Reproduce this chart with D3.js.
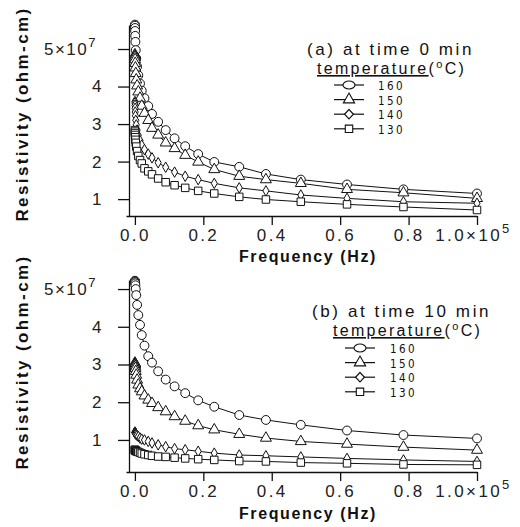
<!DOCTYPE html>
<html>
<head>
<meta charset="utf-8">
<script src="https://cdn.jsdelivr.net/npm/d3@7"></script>
<style>
  body { margin: 0; background: #fff; }
  svg { display: block; }
</style>
</head>
<body>
<div id="chart"></div>
<script>
// frequency (x 1e5 Hz), same sweep for every curve
var freq = [0.0001, 0.0002, 0.0004, 0.0006, 0.001, 0.0015, 0.0025, 0.004, 0.0065, 0.01,
            0.015, 0.02, 0.028, 0.039, 0.05, 0.068, 0.09, 0.116, 0.147, 0.185,
            0.232, 0.305, 0.383, 0.485, 0.62, 0.785, 1.0];

// (a) at time 0 min, resistivity x 1e7 ohm-cm
var a160 = [5.65, 5.62, 5.56, 5.48, 5.35, 5.19, 4.97, 4.75, 4.53, 4.3, 4.08, 3.89, 3.69, 3.48, 3.27, 3.06, 2.84, 2.62, 2.41, 2.2, 1.99, 1.86, 1.67, 1.52, 1.39, 1.26, 1.15];
var a150 = [4.85, 4.82, 4.78, 4.72, 4.62, 4.5, 4.35, 4.18, 4.02, 3.86, 3.69, 3.48, 3.29, 3.1, 2.89, 2.71, 2.5, 2.35, 2.17, 1.99, 1.79, 1.61, 1.52, 1.42, 1.26, 1.17, 1.02];
var a140 = [3.6, 3.56, 3.5, 3.42, 3.32, 3.22, 3.1, 2.98, 2.84, 2.7, 2.56, 2.44, 2.32, 2.2, 2.1, 1.97, 1.85, 1.72, 1.61, 1.52, 1.42, 1.3, 1.22, 1.11, 1.02, 0.93, 0.89];
var a130 = [2.84, 2.8, 2.76, 2.71, 2.65, 2.58, 2.5, 2.4, 2.28, 2.15, 2.04, 1.95, 1.82, 1.74, 1.66, 1.55, 1.45, 1.37, 1.3, 1.22, 1.15, 1.06, 0.99, 0.93, 0.86, 0.79, 0.71];

// (b) at time 10 min
var b160 = [5.22, 5.21, 5.2, 5.18, 5.15, 5.1, 5.0, 4.84, 4.58, 4.31, 4.05, 3.78, 3.5, 3.22, 3.05, 2.82, 2.6, 2.42, 2.24, 2.05, 1.88, 1.66, 1.53, 1.4, 1.25, 1.13, 1.04];
var b150 = [3.04, 3.03, 3.01, 2.99, 2.95, 2.9, 2.82, 2.72, 2.59, 2.46, 2.36, 2.28, 2.17, 2.06, 1.97, 1.86, 1.75, 1.62, 1.5, 1.38, 1.27, 1.15, 1.05, 0.96, 0.89, 0.81, 0.73];
var b140 = [1.21, 1.2, 1.2, 1.19, 1.18, 1.17, 1.16, 1.14, 1.12, 1.09, 1.05, 1.02, 1.0, 0.96, 0.92, 0.87, 0.82, 0.77, 0.74, 0.7, 0.65, 0.6, 0.58, 0.55, 0.51, 0.47, 0.43];
var b130 = [0.74, 0.73, 0.73, 0.73, 0.72, 0.72, 0.71, 0.7, 0.69, 0.68, 0.66, 0.64, 0.62, 0.6, 0.58, 0.56, 0.55, 0.53, 0.51, 0.49, 0.47, 0.44, 0.43, 0.4, 0.38, 0.35, 0.34];

var temps = ['160', '150', '140', '130'];
var xTicks = [0, 0.2, 0.4, 0.6, 0.8, 1.0];
var xTickLabels = ['0.0', '0.2', '0.4', '0.6', '0.8', '1.0\u00d710'];
var yTicks = [1, 2, 3, 4, 5];
var yTickLabels = ['1', '2', '3', '4', '5\u00d710'];

var width = 520, height = 527;
var svg = d3.select('#chart').append('svg')
    .attr('width', width)
    .attr('height', height);

var shapes = [d3.symbolCircle, d3.symbolTriangle, d3.symbolDiamond, d3.symbolSquare];
var sizes = [62, 52, 32, 56];
var font = 'Liberation Sans, Arial, sans-serif';

var x = d3.scaleLinear().domain([-0.026, 1.0]).range([126, 477]);

function drawPanel(series, yDomain, yRange, legend) {
    var y = d3.scaleLinear().domain(yDomain).range(yRange);
    var g = svg.append('g');

    // axes
    var xAxis = d3.axisBottom(x)
        .tickValues(xTicks)
        .tickSize(9)
        .tickSizeOuter(0)
        .tickPadding(4)
        .tickFormat(function (d, i) { return xTickLabels[i]; });
    var gx = g.append('g')
        .attr('transform', 'translate(0,' + yRange[0] + ')')
        .call(xAxis);
    gx.selectAll('text')
        .attr('font-family', font)
        .attr('font-size', 17)
        .attr('letter-spacing', '2.4px')
        .attr('fill', '#222');
    gx.selectAll('.tick').filter(function (d) { return d === 1.0; })
        .select('text')
        .attr('dx', '-4')
        .append('tspan').attr('dy', '-8').attr('font-size', 13).text('5');

    var yAxis = d3.axisLeft(y)
        .tickValues(yTicks)
        .tickSize(14)
        .tickSizeOuter(0)
        .tickPadding(9)
        .tickFormat(function (d, i) { return yTickLabels[i]; });
    var gy = g.append('g')
        .attr('transform', 'translate(' + x.range()[0] + ',0)')
        .call(yAxis);
    gy.select('.domain').attr('transform', 'translate(3,0)');
    gy.selectAll('.tick line').attr('x2', -11).attr('transform', 'translate(3,0)');
    gy.selectAll('text')
        .attr('font-family', font)
        .attr('font-size', 17)
        .attr('letter-spacing', '1.5px')
        .attr('fill', '#222');
    gy.selectAll('.tick').filter(function (d) { return d === 5; })
        .select('text')
        .attr('dx', '-6')
        .append('tspan').attr('dy', '-8').attr('font-size', 13).text('7');
    g.selectAll('.domain, .tick line').attr('stroke', '#111').attr('stroke-width', 1.3);

    // curves
    var line = d3.line()
        .x(function (d) { return x(d[0]); })
        .y(function (d) { return y(d[1]); });

    series.forEach(function (vals, k) {
        var pts = freq.map(function (f, i) { return [f, vals[i]]; });
        g.append('path')
            .datum(pts)
            .attr('d', line)
            .attr('fill', 'none')
            .attr('stroke', '#111')
            .attr('stroke-width', 1);
        g.selectAll('.m' + k)
            .data(pts)
            .enter()
            .append('path')
            .attr('class', 'm' + k)
            .attr('d', d3.symbol().type(shapes[k]).size(sizes[k]))
            .attr('transform', function (d) { return 'translate(' + x(d[0]) + ',' + y(d[1]) + ')'; })
            .attr('fill', '#fff')
            .attr('stroke', '#111')
            .attr('stroke-width', 1);
    });

    // legend
    var lg = g.append('g');
    lg.append('text')
        .attr('x', legend.tx).attr('y', legend.ty)
        .attr('font-family', font)
        .attr('font-size', 17)
        .attr('letter-spacing', '2.6px')
        .attr('fill', '#111')
        .text(legend.title);
    var tt = lg.append('text')
        .attr('x', legend.px).attr('y', legend.ty + 19)
        .attr('font-family', font)
        .attr('font-size', 16)
        .attr('letter-spacing', '2.3px')
        .attr('fill', '#111');
    tt.append('tspan').attr('text-decoration', 'underline').text('temperature');
    tt.append('tspan').text('(');
    tt.append('tspan').attr('dy', -6).attr('font-size', 11).text('o');
    tt.append('tspan').attr('dy', 6).text('C)');

    temps.forEach(function (t, k) {
        var cy = legend.ey + k * 14.6;
        lg.append('line')
            .attr('x1', legend.lx).attr('x2', legend.lx + 30)
            .attr('y1', cy).attr('y2', cy)
            .attr('stroke', '#111').attr('stroke-width', 1.2);
        var mx = legend.lx + 15;
        var mk;
        if (k === 0) {
            mk = lg.append('ellipse').attr('cx', mx).attr('cy', cy).attr('rx', 6).attr('ry', 4);
        } else {
            mk = lg.append('path')
                .attr('d', d3.symbol().type(shapes[k]).size(k === 2 ? 40 : 55))
                .attr('transform', 'translate(' + mx + ',' + cy + ')' + (k === 2 ? ' scale(1.3,0.8)' : ''));
        }
        mk.attr('fill', '#fff').attr('stroke', '#111').attr('stroke-width', 1.1);
        lg.append('text')
            .attr('transform', 'translate(' + legend.nx + ',' + (cy + 5) + ') scale(0.8,1)')
            .attr('font-family', 'DejaVu Sans, sans-serif')
            .attr('font-size', 13)
            .attr('letter-spacing', '3px')
            .attr('fill', '#111')
            .text(t);
    });
}

drawPanel([a160, a150, a140, a130], [0.55, 5.64], [216, 25],
    { title: '(a) at time 0 min', tx: 307, ty: 55, px: 317, lx: 334, ey: 85, nx: 378 });
drawPanel([b160, b150, b140, b130], [0.15, 5.24], [472, 280],
    { title: '(b) at time 10 min', tx: 312, ty: 317, px: 333, lx: 345, ey: 348, nx: 390 });

// axis titles
[262, 519].forEach(function (yy) {
    svg.append('text')
        .attr('x', 308).attr('y', yy)
        .attr('text-anchor', 'middle')
        .attr('font-family', font)
        .attr('font-size', 16)
        .attr('font-weight', 'bold')
        .attr('letter-spacing', '1.6px')
        .attr('fill', '#111')
        .text('Frequency (Hz)');
});
[114, 362].forEach(function (yy) {
    svg.append('text')
        .attr('transform', 'translate(28,' + yy + ') rotate(-90)')
        .attr('text-anchor', 'middle')
        .attr('font-family', font)
        .attr('font-size', 17)
        .attr('font-weight', 'bold')
        .attr('letter-spacing', '2.4px')
        .attr('fill', '#111')
        .text('Resistivity (ohm-cm)');
});
</script>
</body>
</html>
